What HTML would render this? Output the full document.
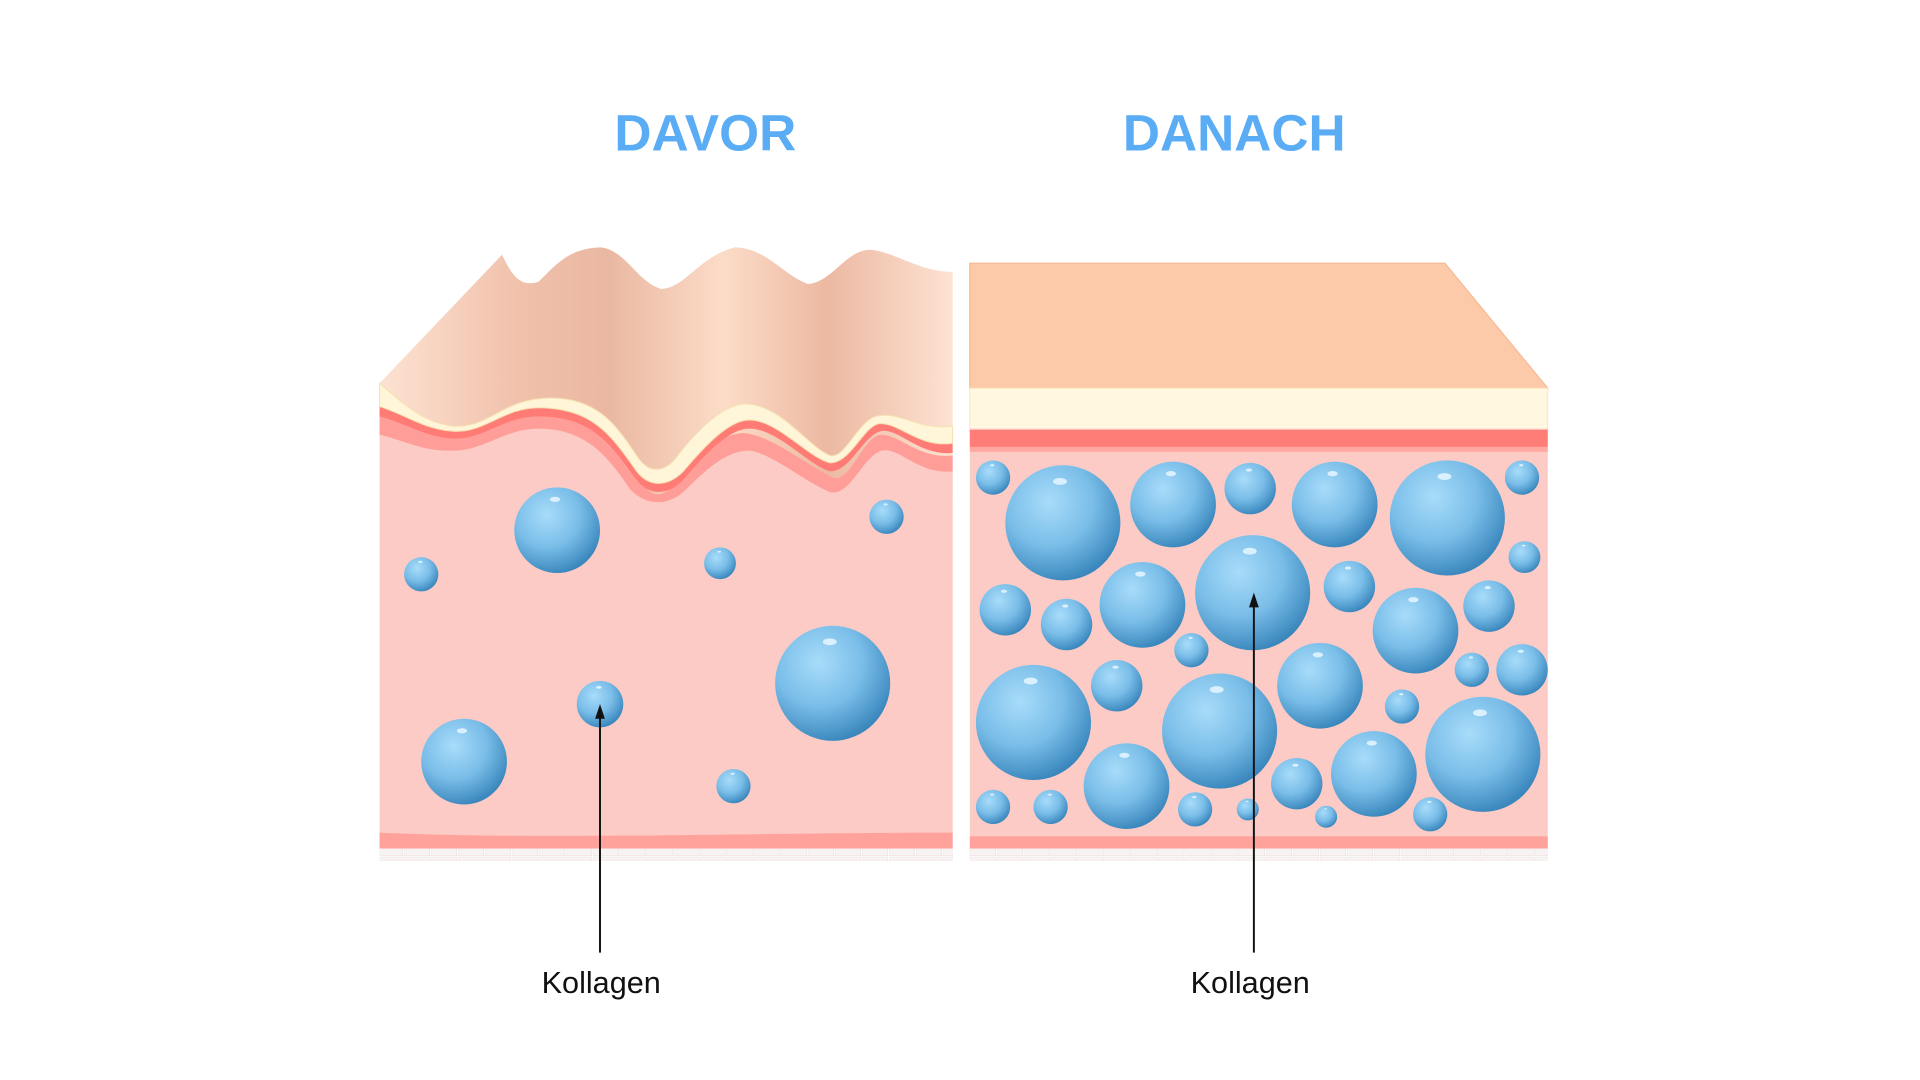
<!DOCTYPE html>
<html><head><meta charset="utf-8"><style>
html,body{margin:0;padding:0;background:#fff;width:1920px;height:1080px;overflow:hidden}
svg{display:block}
</style></head><body>
<svg width="1920" height="1080" viewBox="0 0 1568 882" xmlns="http://www.w3.org/2000/svg">
<defs>
<radialGradient id="b" cx="0.38" cy="0.32" r="0.7">
<stop offset="0" stop-color="#a8dcfa"/><stop offset="0.55" stop-color="#79bde8"/><stop offset="1" stop-color="#3a87bd"/>
</radialGradient>
<linearGradient id="top" x1="0" x2="1" y1="0" y2="0">
<stop offset="0" stop-color="#fde2d2"/><stop offset="0.25" stop-color="#f0c0aa"/><stop offset="0.4" stop-color="#eab8a2"/><stop offset="0.6" stop-color="#fcdcc8"/><stop offset="0.78" stop-color="#ecb9a2"/><stop offset="1" stop-color="#fde2d2"/>
</linearGradient>
<pattern id="tile" width="22" height="10" patternUnits="userSpaceOnUse"><rect width="22" height="10" fill="#fff"/><rect width="21" height="9" fill="#f7f3f3" stroke="#e9dede" stroke-width="0.5"/></pattern>
<g id="bub"><circle r="1" fill="url(#b)"/><ellipse cx="-0.05" cy="-0.72" rx="0.12" ry="0.06" fill="#e3f4ff" opacity="0.9"/></g>
</defs>
<text x="576" y="123" text-anchor="middle" font-family="Liberation Sans, sans-serif" font-weight="bold" font-size="42" fill="#5aacf5">DAVOR</text>
<text x="1008" y="123" text-anchor="middle" font-family="Liberation Sans, sans-serif" font-weight="bold" font-size="42" fill="#5aacf5">DANACH</text>

<!-- LEFT -->
<path d="M310,313 L410,208 C418,225 425,235 440,230 C455,215 465,203 490,202 C510,203 520,230 540,236 C560,235 570,210 600,202 C625,202 640,225 660,232 C680,230 690,205 710,204 C730,205 750,222 778,222 L778,410 L310,410Z" fill="url(#top)"/>
<path d="M310,355 C330,360 345,368 365,368 C395,370 410,350 440,350 C480,350 498,375 515,400 C530,415 548,412 560,400 C580,380 595,368 612,368 C630,370 655,392 678,402 C695,405 705,372 720,368 C735,365 750,388 778,385 L778,703 L310,703Z" fill="#fccbc6"/>
<path d="M310,335 C330,345 345,355 370,352 C400,350 410,335 440,335 C480,335 505,360 525,395 C535,410 545,405 560,385 C580,360 600,350 615,355 C635,360 660,380 680,390 C695,395 705,355 720,355 C735,355 750,375 778,372 L778,385 C750,388 735,365 720,368 C705,372 695,405 678,402 C655,392 630,370 612,368 C595,368 580,380 560,400 C548,412 530,415 515,400 C498,375 480,350 440,350 C410,350 395,370 365,368 C345,368 330,360 310,355Z" fill="#ff9e98"/>
<path d="M310,313 C330,330 345,345 370,348 C400,350 410,325 450,325 C490,325 505,350 522,375 C532,388 545,385 555,370 C575,345 595,328 612,330 C640,333 660,365 678,372 C690,375 700,345 715,340 C735,335 750,352 778,348 L778,370 C750,372 735,350 720,352 C705,355 695,385 678,385 C660,380 635,350 612,350 C595,350 575,372 558,392 C545,405 530,405 520,392 C500,365 485,340 440,340 C410,340 395,360 368,358 C345,356 330,345 310,340Z" fill="#ff7b75"/>
<path d="M310,313 C330,330 345,345 370,348 C400,350 410,325 450,325 C490,325 505,350 522,375 C532,388 545,385 555,370 C575,345 595,328 612,330 C640,333 660,365 678,372 C690,375 700,345 715,340 C735,335 750,352 778,348 L778,362 C750,366 735,345 718,346 C705,348 695,378 678,378 C660,374 635,343 612,343 C595,343 575,365 558,385 C545,398 530,398 520,385 C500,357 485,333 440,333 C410,333 395,355 368,352 C345,350 330,338 310,332Z" fill="#fff5d8" stroke="#f5e0b0" stroke-width="0.8"/>
<path d="M310,680 C450,686 600,680 778,680 L778,693 L310,693Z" fill="#ffa29c"/>
<rect x="310" y="693" width="468" height="10" fill="url(#tile)"/>

<!-- RIGHT -->
<polygon points="792,215 1180,215 1264,317 792,317" fill="#fccaa8" stroke="#f7b995" stroke-width="1"/>
<rect x="792" y="317" width="472" height="34" fill="#fff7df" stroke="#fbe4c0" stroke-width="0.8"/>
<rect x="792" y="350" width="472" height="353" fill="#fccbc6"/>
<rect x="792" y="351" width="472" height="14" fill="#ff7d77"/>
<rect x="792" y="365" width="472" height="4" fill="#ffa8a2"/>
<rect x="792" y="683" width="472" height="10" fill="#ffa29c"/>
<rect x="792" y="693" width="472" height="10" fill="url(#tile)"/>

<g>
<use href="#bub" transform="translate(455,433) scale(35)"/>
<use href="#bub" transform="translate(344,469) scale(14)"/>
<use href="#bub" transform="translate(588,460) scale(13)"/>
<use href="#bub" transform="translate(724,422) scale(14)"/>
<use href="#bub" transform="translate(680,558) scale(47)"/>
<use href="#bub" transform="translate(490,575) scale(19)"/>
<use href="#bub" transform="translate(379,622) scale(35)"/>
<use href="#bub" transform="translate(599,642) scale(14)"/>
<use href="#bub" transform="translate(811,390) scale(14)"/>
<use href="#bub" transform="translate(868,427) scale(47)"/>
<use href="#bub" transform="translate(958,412) scale(35)"/>
<use href="#bub" transform="translate(1021,399) scale(21)"/>
<use href="#bub" transform="translate(1090,412) scale(35)"/>
<use href="#bub" transform="translate(1182,423) scale(47)"/>
<use href="#bub" transform="translate(1243,390) scale(14)"/>
<use href="#bub" transform="translate(1245,455) scale(13)"/>
<use href="#bub" transform="translate(821,498) scale(21)"/>
<use href="#bub" transform="translate(871,510) scale(21)"/>
<use href="#bub" transform="translate(933,494) scale(35)"/>
<use href="#bub" transform="translate(1023,484) scale(47)"/>
<use href="#bub" transform="translate(1102,479) scale(21)"/>
<use href="#bub" transform="translate(1156,515) scale(35)"/>
<use href="#bub" transform="translate(1216,495) scale(21)"/>
<use href="#bub" transform="translate(973,531) scale(14)"/>
<use href="#bub" transform="translate(912,560) scale(21)"/>
<use href="#bub" transform="translate(1078,560) scale(35)"/>
<use href="#bub" transform="translate(1202,547) scale(14)"/>
<use href="#bub" transform="translate(1243,547) scale(21)"/>
<use href="#bub" transform="translate(844,590) scale(47)"/>
<use href="#bub" transform="translate(996,597) scale(47)"/>
<use href="#bub" transform="translate(1145,577) scale(14)"/>
<use href="#bub" transform="translate(920,642) scale(35)"/>
<use href="#bub" transform="translate(1059,640) scale(21)"/>
<use href="#bub" transform="translate(1122,632) scale(35)"/>
<use href="#bub" transform="translate(1211,616) scale(47)"/>
<use href="#bub" transform="translate(811,659) scale(14)"/>
<use href="#bub" transform="translate(858,659) scale(14)"/>
<use href="#bub" transform="translate(976,661) scale(14)"/>
<use href="#bub" transform="translate(1019,661) scale(9)"/>
<use href="#bub" transform="translate(1083,667) scale(9)"/>
<use href="#bub" transform="translate(1168,665) scale(14)"/>
</g>

<line x1="490" y1="778" x2="490" y2="582" stroke="#111" stroke-width="1.6"/>
<polygon points="490,575 486,587 494,587" fill="#111"/>
<line x1="1024" y1="778" x2="1024" y2="491" stroke="#111" stroke-width="1.6"/>
<polygon points="1024,484 1020,496 1028,496" fill="#111"/>
<text x="491" y="811" text-anchor="middle" font-family="Liberation Sans, sans-serif" font-size="25" fill="#111">Kollagen</text>
<text x="1021" y="811" text-anchor="middle" font-family="Liberation Sans, sans-serif" font-size="25" fill="#111">Kollagen</text>
</svg>
</body></html>
